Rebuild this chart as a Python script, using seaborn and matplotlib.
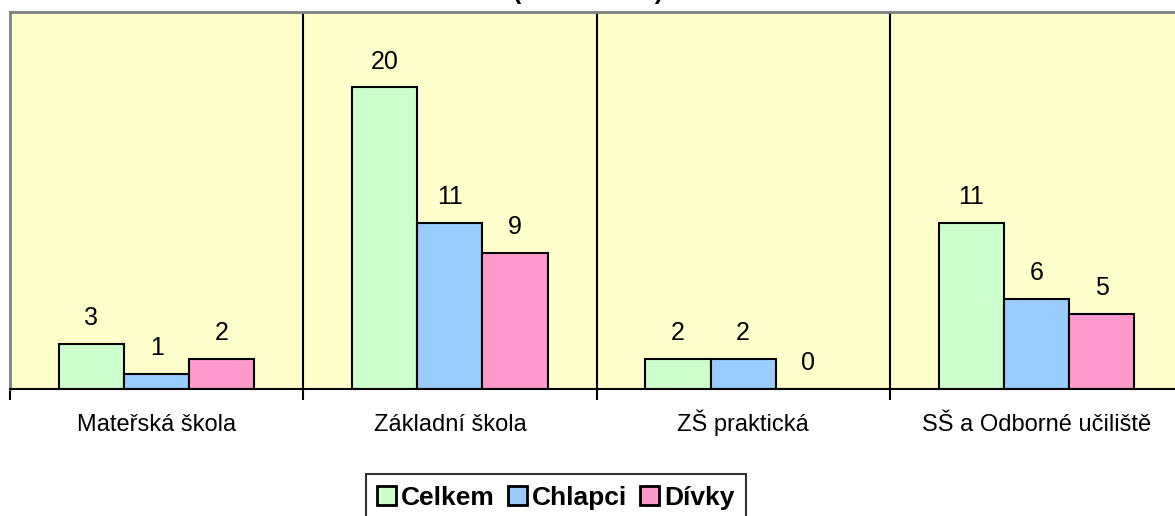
import numpy as np
import pandas as pd
import matplotlib
matplotlib.use("Agg")
import matplotlib.pyplot as plt
import seaborn as sns

# data
categories = ["Mateřská škola", "Základní škola", "ZŠ praktická", "SŠ a Odborné učiliště"]
series = ["Celkem", "Chlapci", "Dívky"]
celkem = [3, 20, 2, 11]
chlapci = [1, 11, 2, 6]
divky = [2, 9, 0, 5]

colors = ["#CCFFCC", "#99CCFF", "#FF99CC"]

df = pd.DataFrame({
    "kategorie": categories * 3,
    "skupina": [s for s in series for _ in categories],
    "pocet": celkem + chlapci + divky,
})

sns.set_theme(style="white")
plt.rcParams["font.family"] = ["Liberation Sans", "DejaVu Sans"]
plt.rcParams["text.color"] = "black"
plt.rcParams["xtick.color"] = "black"
plt.rcParams["xtick.labelcolor"] = "black"

fig = plt.figure(figsize=(11.75, 5.16), dpi=100)
ax = fig.add_axes([10 / 1175, 1 - 389 / 516, 1173 / 1175, 377 / 516])
ax.set_facecolor("#FFFFCC")

sns.barplot(
    data=df, x="kategorie", y="pocet", hue="skupina",
    order=categories, hue_order=series, palette=colors,
    width=0.667, gap=0, edgecolor="black", linewidth=1.5,
    saturation=1, ax=ax, legend=True,
)

# value labels above each bar
for container in ax.containers:
    ax.bar_label(container, padding=10, fontsize=18, color="black")

ax.set_ylim(0, 25)
ax.set_xlim(-0.5, 3.5)
ax.set_yticks([])
ax.set_xlabel("")
ax.set_ylabel("")

# category separators
for b in np.arange(0.5, 3.5, 1):
    ax.axvline(b, color="black", linewidth=1.5, zorder=0.5)

ax.set_xticks(np.arange(-0.5, 4.0, 1), minor=True)
ax.tick_params(axis="x", which="minor", length=8, width=1.5, color="black", direction="out")
ax.tick_params(axis="x", which="major", length=0, labelsize=17, pad=30)
ax.xaxis.set_tick_params(which="minor", bottom=True)
for lbl in ax.get_xticklabels():
    lbl.set_verticalalignment("baseline")

for side in ["left", "top"]:
    ax.spines[side].set_color("#808080")
    ax.spines[side].set_linewidth(2)
ax.spines["right"].set_visible(False)
ax.spines["bottom"].set_color("black")
ax.spines["bottom"].set_linewidth(1.5)

ax.legend_.remove()
leg = fig.legend(
    *ax.get_legend_handles_labels(),
    loc="upper center", bbox_to_anchor=(556 / 1175, 1 - 474 / 516),
    ncol=3, frameon=True, fancybox=False, edgecolor="black",
    prop={"weight": "bold", "size": 19}, handlelength=0.7, handleheight=0.7,
    handletextpad=0.2, columnspacing=0.5, borderpad=0.45, borderaxespad=0,
)
leg.get_frame().set_linewidth(1.5)
for h in leg.legend_handles:
    h.set_linewidth(2)

# title is cut off at the top of the picture
fig.text(588 / 1175, 1.0 + 1 / 516, "(2008 - 2009)", ha="center", va="baseline",
         fontsize=18, fontweight="bold")

plt.savefig("out.png", dpi=100)
